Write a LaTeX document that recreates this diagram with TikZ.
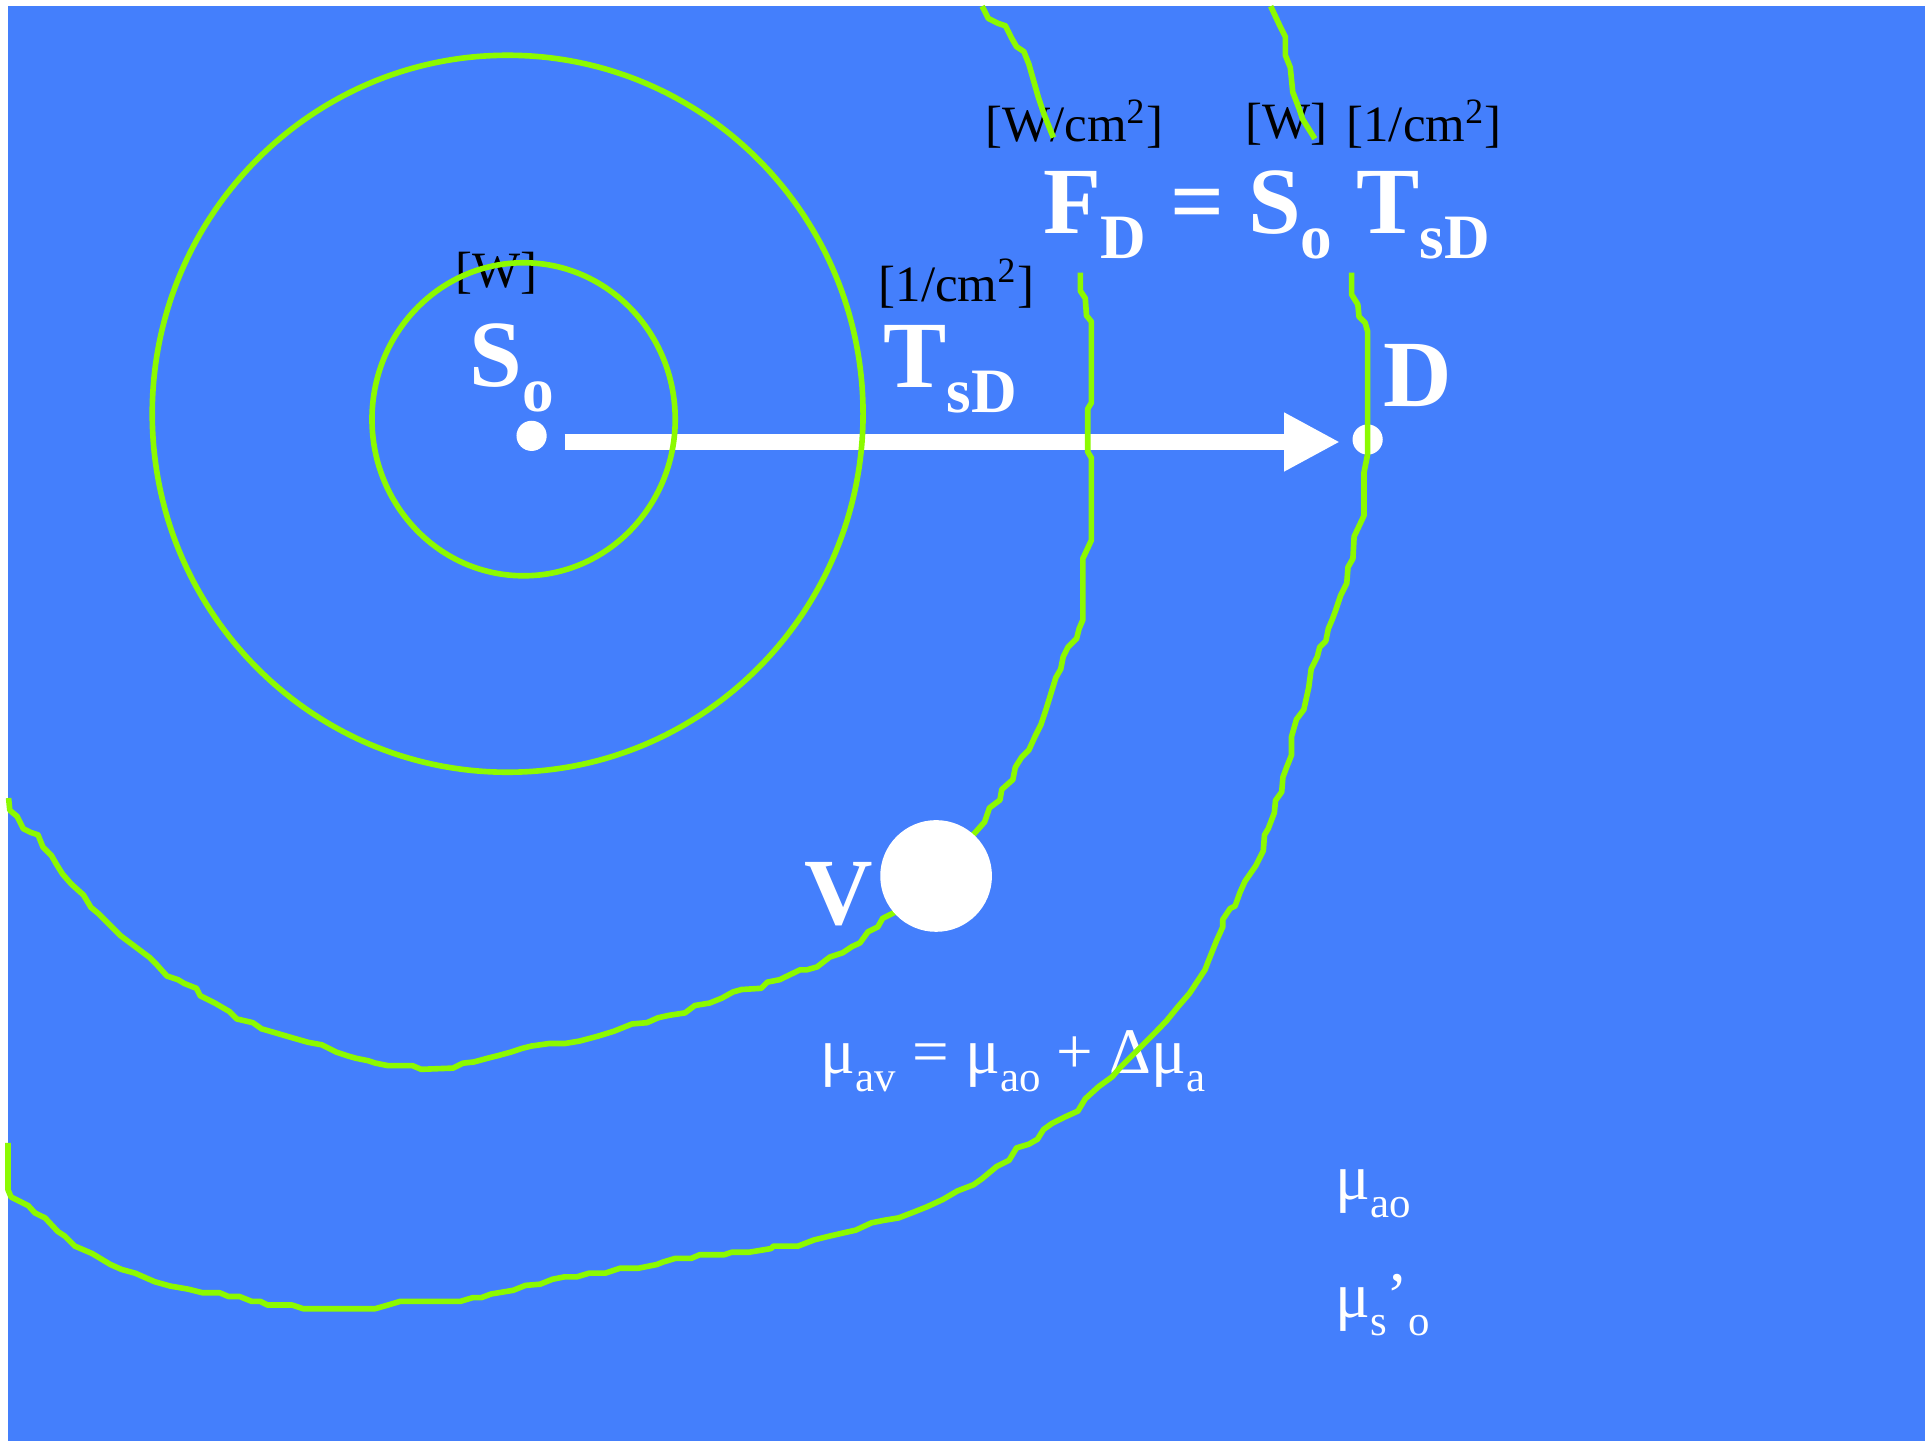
\documentclass[tikz,border=0pt]{standalone}
\usepackage{fontspec}
\setmainfont{Liberation Serif}
\usetikzlibrary{arrows.meta}
\definecolor{slideblue}{RGB}{68,127,252}
\definecolor{isogreen}{RGB}{140,250,0}
% lowered subscripts as on the slide
\newcommand{\bigsub}[1]{\raisebox{-7.1pt}{\fontsize{18}{18}\selectfont #1}}
\newcommand{\musub}[1]{\raisebox{-5.2pt}{\fontsize{12.2}{12.2}\selectfont #1}}

\begin{document}
\begin{tikzpicture}[x=0.012277cm,y=-0.012277cm,
  contour/.style={draw=isogreen,line width=1.6pt,line join=round},
  bigletter/.style={text=white,font=\fontsize{27}{27}\selectfont\bfseries,inner sep=0pt,anchor=base west},
  unitlabel/.style={text=black,font=\fontsize{14.5}{14.5}\selectfont,inner sep=0pt},
  coeff/.style={text=white,font=\fontsize{18.5}{18.5}\selectfont,inner sep=0pt,anchor=base west},
  spot/.style={circle,fill=white,inner sep=0pt,minimum size=8.6pt}]
% ---- page and slide background
\useasboundingbox (0,0) rectangle (1568,1174);
\fill[white] (0,0) rectangle (1568,1174);
\fill[slideblue] (6.5,5) rectangle (1568,1174);
% ---- source, detector and their labels
\node[spot] (so) at (433,355) {};
\node[spot] (dd) at (1114,358) {};
\node[bigletter] (solabel) at (382,315) {S\bigsub{o}};
\node[unitlabel] (sounit) at (404.5,222.5) {[W]};
\node[bigletter] (tlabel) at (719,316) {T\bigsub{sD}};
\node[unitlabel] (tunit) at (779,231) {[1/cm\textsuperscript{2}]};
\node[bigletter] (dlabel) at (1126,331) {D};
% ---- transport arrow
\coordinate (tail) at (460,360);
\coordinate (head) at (1091.5,360);
\draw[white,line width=4.75pt,-{Triangle[length=15.9pt,width=15.6pt]}] (tail) -- (head);
% ---- flux equation with units
\node[bigletter] (fluxeq) at (849,190) {F\bigsub{D} = S\bigsub{o} T\bigsub{sD}};
\node[unitlabel] (funit) at (875,101) {[W/cm\textsuperscript{2}]};
\node[unitlabel] (sunit) at (1048,101) {[W]};
\node[unitlabel] (tsunit) at (1160,101) {[1/cm\textsuperscript{2}]};
% ---- optical properties
\node[bigletter] (vlabel) at (655,753) {V};
\node[coeff] (muv) at (668,874) {μ\musub{av} = μ\musub{ao} + Δμ\musub{a}};
\node[coeff] (muao) at (1087,977) {μ\musub{ao}};
\node[coeff] (muso) at (1087,1073) {μ\musub{s}’\musub{o}};
% ---- circles round the source
\draw[contour] (426.5,341.5) ellipse [x radius=123.5,y radius=127.5];
\draw[contour] (413.5,337) ellipse [x radius=289.5,y radius=292];
% ---- perturbed contour through V (pieces above and below the equation)
\draw[contour] (800,5) -- (805,15) -- (813,19) -- (819,21) -- (824,31) -- (828,38) -- (834,42) -- (838,52)
  -- (842,66) -- (846,80) -- (850,92) -- (854,102) -- (858,112);
\draw[contour] (880,222) -- (880,237) -- (884,243) -- (885,257) -- (889,262) -- (889,328) -- (886,333)
  -- (886,368) -- (889,373) -- (889,440) -- (882,455) -- (882,505) -- (879,512) -- (877,520) -- (870,527)
  -- (866,535) -- (864,545) -- (860,552) -- (856,565) -- (852,578) -- (848,590) -- (843,600) -- (838,611)
  -- (832,617) -- (827,625) -- (825,635) -- (816,643) -- (814.5,651.6) -- (806,658) -- (802,669.5)
  -- (794,678.5) -- (760,712) -- (729,743) -- (719,748) -- (715,755) -- (707,759) -- (700.5,768)
  -- (694,771) -- (686.5,776) -- (676,779.5) -- (665.5,787.6) -- (657,790) -- (651.6,790) -- (635,798)
  -- (625,800) -- (620,805) -- (604,806) -- (597,808) -- (588,813) -- (578,817) -- (566,819) -- (558,825)
  -- (545,827) -- (536,829) -- (527,833) -- (515,834) -- (500,840) -- (487,844) -- (472,848) -- (460,850)
  -- (447,850) -- (433,852) -- (425,854) -- (416,857) -- (405,860) -- (397,862) -- (386,865) -- (377,866)
  -- (369,870) -- (343,871) -- (336,868) -- (316,868) -- (306,866) -- (300,864) -- (290,862) -- (283,860)
  -- (274,857) -- (262,851) -- (251,849) -- (237,845) -- (220,840) -- (213,838) -- (206,833) -- (193,830)
  -- (187,824) -- (175,817) -- (163,811) -- (160,805) -- (150,801) -- (145,798) -- (136,795) -- (127,785)
  -- (122,780) -- (110,771) -- (98,762) -- (85,749) -- (80,744) -- (74,739) -- (68,729) -- (58,720)
  -- (51,712) -- (46,704) -- (42,697) -- (35,690) -- (31,680) -- (25,678) -- (19,675) -- (14,665)
  -- (8,660) -- (7,650);
% ---- outer contour through D
\draw[contour] (1035,5) -- (1042,20) -- (1047,30) -- (1047,45) -- (1051,55) -- (1052,65) -- (1053,75)
  -- (1058,88) -- (1061,97) -- (1066,105) -- (1071,113);
\draw[contour] (1101,222) -- (1101,240) -- (1106,248) -- (1107,258) -- (1112,263) -- (1114,270)
  -- (1114,370) -- (1111,385) -- (1111,420) -- (1103,437) -- (1102,455) -- (1098,462) -- (1097,475)
  -- (1092,485) -- (1088,497) -- (1085,505) -- (1082,512) -- (1080,522) -- (1075,527) -- (1073,535)
  -- (1068,545) -- (1066,560) -- (1062,578) -- (1056,586) -- (1052,600) -- (1052,615) -- (1048,625)
  -- (1045,633) -- (1044,645) -- (1039,652) -- (1038,662) -- (1033,675) -- (1030,680) -- (1029,693)
  -- (1023,705) -- (1014,718) -- (1010,727) -- (1006,738) -- (1002,740) -- (996,749) -- (996,755)
  -- (991,766) -- (984,783.5) -- (981.5,790) -- (969,809) -- (959.5,820) -- (950.6,831) -- (942,840)
  -- (932,850) -- (922,860) -- (912,870) -- (906,877) -- (895,885) -- (884,895) -- (878,905) -- (867,910)
  -- (857,915) -- (850,920) -- (845,928) -- (838,932) -- (828,935) -- (822,945) -- (812,950) -- (806,955)
  -- (800,960) -- (793,965) -- (780,970) -- (768,977) -- (755,983) -- (745,987) -- (732,992) -- (720,994)
  -- (710,996) -- (697,1002) -- (688,1004) -- (675,1007) -- (663,1010) -- (650,1015) -- (630,1015)
  -- (628,1017) -- (610,1020) -- (596,1020) -- (590,1022) -- (570,1022) -- (563,1025) -- (550,1025)
  -- (540,1028) -- (535,1030) -- (520,1033) -- (505,1033) -- (493,1037) -- (480,1037) -- (470,1040)
  -- (460,1040) -- (450,1042) -- (440,1046) -- (428,1047) -- (418,1051) -- (412,1052) -- (400,1054)
  -- (392,1057) -- (385,1057) -- (375,1060) -- (345,1060) -- (326,1060) -- (316,1063) -- (305.5,1066)
  -- (247,1066) -- (238,1063) -- (218,1063) -- (212,1060) -- (205,1060) -- (195,1056) -- (186,1056)
  -- (179,1053) -- (165,1053) -- (153,1050) -- (138.5,1047.5) -- (126,1044) -- (110,1037) -- (99,1034)
  -- (90,1030) -- (75,1021) -- (61,1015) -- (53,1007) -- (47,1003) -- (36.7,992) -- (28.5,988)
  -- (23,982) -- (9,975) -- (6.5,969) -- (6.5,931);
% ---- voxel V on top of its contour
\node[circle,fill=white,inner sep=0pt,minimum size=31.8pt] (vox) at (762.5,713.5) {};
\end{tikzpicture}
\end{document}
